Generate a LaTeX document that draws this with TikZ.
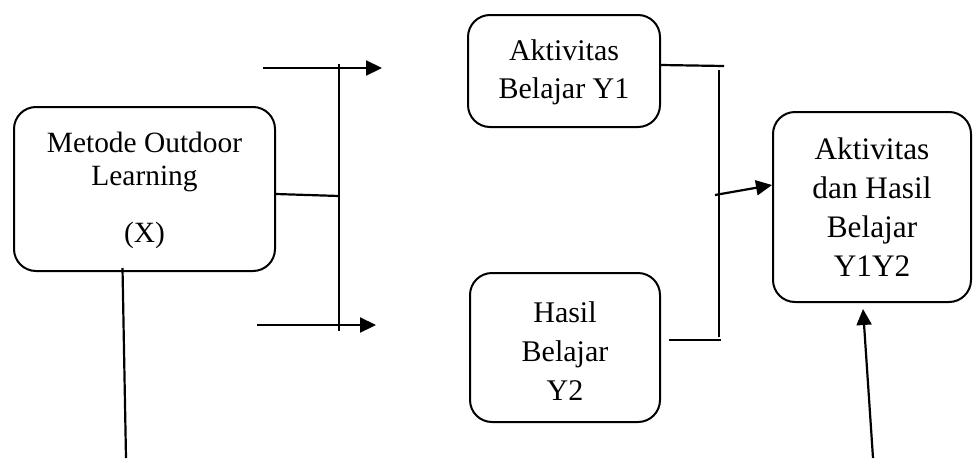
\documentclass[tikz,border=0pt]{standalone}
\usepackage{fontspec}
\setmainfont{Liberation Serif}
\usetikzlibrary{arrows.meta}
\begin{document}
\begin{tikzpicture}[x=1pt,y=-1pt,
  box/.style={draw,line width=2pt,rounded corners=22pt,align=center,inner sep=0pt},
  line/.style={line width=2.2pt},
  thin/.style={line width=1.6pt},
  arr/.style={line width=2.2pt,-{Triangle[length=16pt,width=15pt]}}]
\useasboundingbox (0,0) rectangle (973,458);
\node[box,minimum width=261pt,minimum height=164pt,font=\fontsize{29.4}{33}\selectfont] (x) at (144.5,189)
  {\rule{0pt}{24pt}Metode Outdoor\\Learning\\[24pt](X)};
\node[box,minimum width=192pt,minimum height=112pt,font=\fontsize{30}{38}\selectfont] (y1) at (564,71)
  {\rule{0pt}{23pt}Aktivitas\\Belajar Y1};
\node[box,minimum width=190pt,minimum height=149pt,font=\fontsize{30}{39}\selectfont] (y2) at (565,347.5)
  {\rule{0pt}{27pt}Hasil\\Belajar\\Y2};
\node[box,minimum width=198pt,minimum height=190pt,font=\fontsize{31.3}{39}\selectfont] (y12) at (872,207)
  {Aktivitas\\dan Hasil\\Belajar\\Y1Y2};
% left bracket
\coordinate (lt0) at (263,68);
\coordinate (lt1) at (382,68);
\coordinate (lb0) at (257,325);
\coordinate (lb1) at (376,325);
\coordinate (lv0) at (339,64);
\coordinate (lv1) at (339,331);
\coordinate (lm) at (339,196);
\draw[arr] (lt0) -- (lt1);
\draw[arr] (lb0) -- (lb1);
\draw[thin] (lv0) -- (lv1);
\draw[line] ([yshift=-5pt]x.east) -- (lm);
% right bracket
\coordinate (rt) at (724,66);
\coordinate (rv0) at (719,70);
\coordinate (rv1) at (719,337);
\coordinate (rb0) at (669,340);
\coordinate (rb1) at (721,340);
\coordinate (ra) at (715,195);
\draw[line] ([yshift=6pt]y1.east) -- (rt);
\draw[line] (rv0) -- (rv1);
\draw[line] (rb0) -- (rb1);
\draw[arr] (ra) -- ([yshift=22pt]y12.west);
% bottom lines
\coordinate (bl) at (126,458);
\coordinate (br) at (873,458);
\draw[line] ([xshift=-22pt,yshift=4pt]x.south) -- (bl);
\draw[arr] (br) -- ([xshift=-9pt,yshift=-6pt]y12.south);
\end{tikzpicture}
\end{document}
